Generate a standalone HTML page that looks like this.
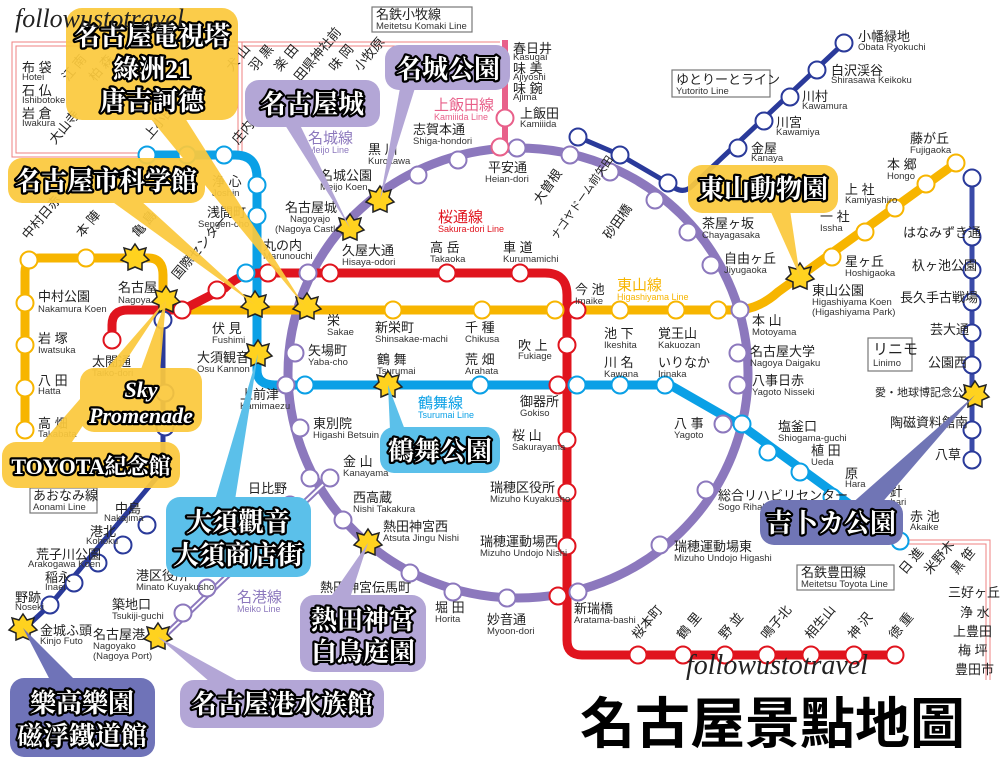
<!DOCTYPE html>
<html><head><meta charset="utf-8"><style>
body{margin:0;background:#fff}
svg{display:block}
text{font-family:"Liberation Sans","Noto Sans CJK JP",sans-serif}
.j{font-size:13px;fill:#222}
.r{font-size:9.5px;fill:#333}
.co{font-family:"Liberation Serif","Noto Serif CJK SC",serif;font-weight:bold;font-size:26px;fill:#fff;stroke:#000;stroke-width:4.5;paint-order:stroke;stroke-linejoin:round;text-anchor:middle}
</style></head><body>
<svg width="1000" height="764" viewBox="0 0 1000 764" xmlns="http://www.w3.org/2000/svg">
<defs>
<circle id="st" r="8.5" fill="#fff" stroke="currentColor" stroke-width="2"/>
<polygon id="star" points="0,-14 4,-8 11,-10 9,-3 14,2 7,5 7,12 0,9 -7,12 -7,5 -14,2 -9,-3 -11,-10 -4,-8" fill="#ffd21f" stroke="#222" stroke-width="1.5"/>
</defs>
<g fill="none" stroke="#ef8080" stroke-width="1">
<rect x="12" y="42" width="230" height="115"/><rect x="16" y="46" width="222" height="107"/>
<path d="M242,42 H500 M242,46 H500"/>
<path d="M908,540 H990 V680 M908,544 H986 V680"/>
</g>
<path d="M505,40 V150" stroke="#e8608a" stroke-width="6" fill="none"/>
<ellipse cx="518" cy="373" rx="230" ry="225" fill="none" stroke="#8c78bd" stroke-width="9"/>
<path d="M330,478 L160,640" stroke="#8c78bd" stroke-width="6" fill="none"/>
<path d="M330,478 L160,640" stroke="#fff" stroke-width="2" fill="none"/>
<path d="M578,137 L620,155 L668,183 Q682,196 692,186 L844,43" stroke="#2a3a9a" stroke-width="5" fill="none"/>
<path d="M972,178 V460" stroke="#3a4aa8" stroke-width="5" fill="none"/>
<path d="M163,320 V470 L50,605 L23,630" stroke="#2a3a9a" stroke-width="5" fill="none"/>
<path d="M147,155 H235 Q257,155 257,178 V370 Q257,385 275,385 H670 L745,428 L900,541" stroke="#0aa0e6" stroke-width="9" fill="none"/>
<path d="M25,430 V272 Q25,258 40,258 H148 Q163,258 163,275 V295 Q163,310 180,310 H735 Q758,310 778,292 L956,163" stroke="#f7b500" stroke-width="9" fill="none"/>
<path d="M112,340 V325 Q112,310 128,310 H182 L225,288 Q240,273 260,273 H545 Q567,273 567,295 V640 Q567,655 582,655 H895" stroke="#e0141e" stroke-width="9" fill="none"/>

<g style="color:#f7b500">
<use href="#st" x="25" y="430"/><use href="#st" x="25" y="388"/><use href="#st" x="25" y="345"/><use href="#st" x="25" y="303"/><use href="#st" x="29" y="260"/><use href="#st" x="86" y="258"/><use href="#st" x="393" y="310"/><use href="#st" x="482" y="310"/><use href="#st" x="555" y="310"/><use href="#st" x="620" y="310"/><use href="#st" x="676" y="310"/><use href="#st" x="718" y="310"/><use href="#st" x="832" y="257"/><use href="#st" x="865" y="232"/><use href="#st" x="895" y="208"/><use href="#st" x="926" y="184"/><use href="#st" x="956" y="163"/>
</g>
<g style="color:#e0141e">
<use href="#st" x="112" y="340"/><use href="#st" x="182" y="310"/><use href="#st" x="217" y="290"/><use href="#st" x="268" y="273"/><use href="#st" x="330" y="273"/><use href="#st" x="447" y="273"/><use href="#st" x="520" y="273"/><use href="#st" x="577" y="310"/><use href="#st" x="567" y="345"/><use href="#st" x="558" y="385"/><use href="#st" x="567" y="440"/><use href="#st" x="567" y="492"/><use href="#st" x="567" y="546"/><use href="#st" x="558" y="596"/><use href="#st" x="638" y="655"/><use href="#st" x="683" y="655"/><use href="#st" x="725" y="655"/><use href="#st" x="767" y="655"/><use href="#st" x="811" y="655"/><use href="#st" x="854" y="655"/><use href="#st" x="895" y="655"/>
</g>
<g style="color:#0aa0e6">
<use href="#st" x="147" y="155"/><use href="#st" x="187" y="155"/><use href="#st" x="224" y="155"/><use href="#st" x="257" y="185"/><use href="#st" x="257" y="216"/><use href="#st" x="246" y="273"/><use href="#st" x="305" y="385"/><use href="#st" x="480" y="385"/><use href="#st" x="577" y="385"/><use href="#st" x="620" y="385"/><use href="#st" x="665" y="385"/><use href="#st" x="742" y="424"/><use href="#st" x="768" y="452"/><use href="#st" x="800" y="472"/><use href="#st" x="832" y="497"/><use href="#st" x="900" y="541"/>
</g>
<g style="color:#8c78bd">
<use href="#st" x="418" y="175"/><use href="#st" x="458" y="160"/><use href="#st" x="517" y="148"/><use href="#st" x="570" y="155"/><use href="#st" x="610" y="172"/><use href="#st" x="655" y="200"/><use href="#st" x="688" y="232"/><use href="#st" x="711" y="265"/><use href="#st" x="740" y="310"/><use href="#st" x="738" y="353"/><use href="#st" x="738" y="385"/><use href="#st" x="723" y="424"/><use href="#st" x="706" y="490"/><use href="#st" x="660" y="545"/><use href="#st" x="578" y="592"/><use href="#st" x="507" y="598"/><use href="#st" x="453" y="592"/><use href="#st" x="410" y="573"/><use href="#st" x="343" y="520"/><use href="#st" x="330" y="478"/><use href="#st" x="300" y="428"/><use href="#st" x="286" y="385"/><use href="#st" x="295" y="353"/><use href="#st" x="308" y="273"/><use href="#st" x="310" y="478"/><use href="#st" x="290" y="505"/><use href="#st" x="207" y="588"/><use href="#st" x="183" y="613"/>
</g>
<g style="color:#2a3a9a">
<use href="#st" x="163" y="320"/><use href="#st" x="165" y="393"/><use href="#st" x="165" y="427"/><use href="#st" x="147" y="525"/><use href="#st" x="123" y="545"/><use href="#st" x="98" y="563"/><use href="#st" x="74" y="583"/><use href="#st" x="50" y="605"/>
<use href="#st" x="578" y="137"/><use href="#st" x="620" y="155"/><use href="#st" x="668" y="183"/><use href="#st" x="738" y="148"/><use href="#st" x="764" y="121"/><use href="#st" x="790" y="97"/><use href="#st" x="817" y="70"/><use href="#st" x="844" y="43"/>
<use href="#st" x="972" y="178"/><use href="#st" x="972" y="237"/><use href="#st" x="972" y="270"/><use href="#st" x="972" y="302"/><use href="#st" x="972" y="333"/><use href="#st" x="972" y="365"/><use href="#st" x="972" y="430"/><use href="#st" x="972" y="460"/>
</g>
<g style="color:#e8608a"><use href="#st" x="505" y="118"/><use href="#st" x="500" y="147"/></g>

<g fill="#fff" stroke="#777" stroke-width="1.2">
<rect x="372" y="7" width="100" height="25"/><rect x="672" y="70" width="98" height="27"/><rect x="797" y="565" width="97" height="25"/><rect x="868" y="338" width="44" height="33"/><rect x="30" y="488" width="67" height="25"/>
</g>
<text class="j" x="376" y="19">名鉄小牧線</text><text class="r" x="376" y="29">Meitetsu Komaki Line</text>
<text class="j" x="676" y="84">ゆとりーとライン</text><text class="r" x="676" y="94">Yutorito Line</text>
<text class="j" x="801" y="577">名鉄豊田線</text><text class="r" x="801" y="587">Meitetsu Toyota Line</text>
<text class="j" x="873" y="354" style="font-size:15px">リニモ</text><text class="r" x="873" y="366">Linimo</text>
<text class="j" x="33" y="500">あおなみ線</text><text class="r" x="33" y="510">Aonami Line</text>

<text x="308" y="143" style="font-size:15px;fill:#8c78bd">名城線</text><text x="308" y="153" style="font-size:9px;fill:#8c78bd">Meijo Line</text>
<text x="434" y="110" style="font-size:15px;fill:#e8608a">上飯田線</text><text x="434" y="120" style="font-size:9px;fill:#e8608a">Kamiiida Line</text>
<text x="438" y="222" style="font-size:15px;fill:#e0141e">桜通線</text><text x="438" y="232" style="font-size:9px;fill:#e0141e">Sakura-dori Line</text>
<text x="617" y="290" style="font-size:15px;fill:#f7b500">東山線</text><text x="617" y="300" style="font-size:9px;fill:#f7b500">Higashiyama Line</text>
<text x="418" y="408" style="font-size:15px;fill:#0aa0e6">鶴舞線</text><text x="418" y="418" style="font-size:9px;fill:#0aa0e6">Tsurumai Line</text>
<text x="237" y="602" style="font-size:15px;fill:#8c78bd">名港線</text><text x="237" y="612" style="font-size:9px;fill:#8c78bd">Meiko Line</text>

<g>
<text class="j" x="22" y="72">布 袋</text><text class="r" x="22" y="80">Hotei</text>
<text class="j" x="22" y="95">石 仏</text><text class="r" x="22" y="103">Ishibotoke</text>
<text class="j" x="22" y="118">岩 倉</text><text class="r" x="22" y="126">Iwakura</text>
<text class="j" x="38" y="301">中村公園</text><text class="r" x="38" y="312">Nakamura Koen</text>
<text class="j" x="38" y="343">岩 塚</text><text class="r" x="38" y="353">Iwatsuka</text>
<text class="j" x="38" y="385">八 田</text><text class="r" x="38" y="394">Hatta</text>
<text class="j" x="38" y="428">高 畑</text><text class="r" x="38" y="437">Takabata</text>
<text class="j" x="118" y="292">名古屋</text><text class="r" x="118" y="303">Nagoya</text>
<text class="j" x="92" y="366">太閤通</text><text class="r" x="92" y="376">Taiko-dori</text>
<text class="j" x="212" y="186">浄 心</text><text class="r" x="212" y="196">Joshin</text>
<text class="j" x="207" y="217">浅間町</text><text class="r" x="198" y="227">Sengen-cho</text>
<text class="j" x="263" y="250">丸の内</text><text class="r" x="263" y="259">Marunouchi</text>
<text class="j" x="285" y="212">名古屋城</text><text class="r" x="290" y="222">Nagoyajo</text><text class="r" x="275" y="232">(Nagoya Castle)</text>
<text class="j" x="320" y="180">名城公園</text><text class="r" x="320" y="190">Meijo Koen</text>
<text class="j" x="368" y="154">黒 川</text><text class="r" x="368" y="164">Kurokawa</text>
<text class="j" x="413" y="134">志賀本通</text><text class="r" x="413" y="144">Shiga-hondori</text>
<text class="j" x="488" y="172">平安通</text><text class="r" x="485" y="182">Heian-dori</text>
<text class="j" x="520" y="118">上飯田</text><text class="r" x="520" y="127">Kamiiida</text>
<text class="j" x="513" y="53">春日井</text><text class="r" x="513" y="60">Kasugai</text>
<text class="j" x="513" y="73">味 美</text><text class="r" x="513" y="80">Ajiyoshi</text>
<text class="j" x="513" y="93">味 鋺</text><text class="r" x="513" y="100">Ajima</text>
<text class="j" x="342" y="255">久屋大通</text><text class="r" x="342" y="265">Hisaya-odori</text>
<text class="j" x="430" y="252">高 岳</text><text class="r" x="430" y="262">Takaoka</text>
<text class="j" x="503" y="252">車 道</text><text class="r" x="503" y="262">Kurumamichi</text>
<text class="j" x="575" y="294">今 池</text><text class="r" x="575" y="304">Imaike</text>
<text class="j" x="212" y="333">伏 見</text><text class="r" x="212" y="343">Fushimi</text>
<text class="j" x="197" y="362">大須観音</text><text class="r" x="197" y="372">Osu Kannon</text>
<text class="j" x="327" y="325">栄</text><text class="r" x="327" y="335">Sakae</text>
<text class="j" x="308" y="355">矢場町</text><text class="r" x="308" y="365">Yaba-cho</text>
<text class="j" x="375" y="332">新栄町</text><text class="r" x="375" y="342">Shinsakae-machi</text>
<text class="j" x="465" y="332">千 種</text><text class="r" x="465" y="342">Chikusa</text>
<text class="j" x="377" y="364">鶴 舞</text><text class="r" x="377" y="374">Tsurumai</text>
<text class="j" x="465" y="364">荒 畑</text><text class="r" x="465" y="374">Arahata</text>
<text class="j" x="518" y="350">吹 上</text><text class="r" x="518" y="359">Fukiage</text>
<text class="j" x="604" y="338">池 下</text><text class="r" x="604" y="348">Ikeshita</text>
<text class="j" x="658" y="338">覚王山</text><text class="r" x="658" y="348">Kakuozan</text>
<text class="j" x="604" y="367">川 名</text><text class="r" x="604" y="377">Kawana</text>
<text class="j" x="658" y="367">いりなか</text><text class="r" x="658" y="377">Irinaka</text>
<text class="j" x="752" y="325">本 山</text><text class="r" x="752" y="335">Motoyama</text>
<text class="j" x="750" y="356">名古屋大学</text><text class="r" x="750" y="366">Nagoya Daigaku</text>
<text class="j" x="752" y="385">八事日赤</text><text class="r" x="752" y="395">Yagoto Nisseki</text>
<text class="j" x="240" y="399">上前津</text><text class="r" x="240" y="409">Kamimaezu</text>
<text class="j" x="313" y="428">東別院</text><text class="r" x="313" y="438">Higashi Betsuin</text>
<text class="j" x="520" y="406">御器所</text><text class="r" x="520" y="416">Gokiso</text>
<text class="j" x="512" y="440">桜 山</text><text class="r" x="512" y="450">Sakurayama</text>
<text class="j" x="490" y="492">瑞穂区役所</text><text class="r" x="490" y="502">Mizuho Kuyakusho</text>
<text class="j" x="480" y="546">瑞穂運動場西</text><text class="r" x="480" y="556">Mizuho Undojo Nishi</text>
<text class="j" x="674" y="428">八 事</text><text class="r" x="674" y="438">Yagoto</text>
<text class="j" x="778" y="431">塩釜口</text><text class="r" x="778" y="441">Shiogama-guchi</text>
<text class="j" x="811" y="455">植 田</text><text class="r" x="811" y="465">Ueda</text>
<text class="j" x="845" y="478">原</text><text class="r" x="845" y="487">Hara</text>
<text class="j" x="873" y="496">平 針</text><text class="r" x="873" y="505">Hirabari</text>
<text class="j" x="910" y="521">赤 池</text><text class="r" x="910" y="530">Akaike</text>
<text class="j" x="718" y="500">総合リハビリセンター</text><text class="r" x="718" y="510">Sogo Rihabiri Center</text>
<text class="j" x="674" y="551">瑞穂運動場東</text><text class="r" x="674" y="561">Mizuho Undojo Higashi</text>
<text class="j" x="574" y="613">新瑞橋</text><text class="r" x="574" y="623">Aratama-bashi</text>
<text class="j" x="487" y="624">妙音通</text><text class="r" x="487" y="634">Myoon-dori</text>
<text class="j" x="435" y="612">堀 田</text><text class="r" x="435" y="622">Horita</text>
<text class="j" x="320" y="592">熱田神宮伝馬町</text>
<text class="j" x="383" y="531">熱田神宮西</text><text class="r" x="383" y="541">Atsuta Jingu Nishi</text>
<text class="j" x="353" y="502">西高蔵</text><text class="r" x="353" y="512">Nishi Takakura</text>
<text class="j" x="343" y="466">金 山</text><text class="r" x="343" y="476">Kanayama</text>
<text class="j" x="248" y="493">日比野</text>
<text class="j" x="136" y="580">港区役所</text><text class="r" x="136" y="590">Minato Kuyakusho</text>
<text class="j" x="112" y="609">築地口</text><text class="r" x="112" y="619">Tsukiji-guchi</text>
<text class="j" x="93" y="639">名古屋港</text><text class="r" x="93" y="649">Nagoyako</text><text class="r" x="93" y="659">(Nagoya Port)</text>
<text class="j" x="115" y="513">中島</text><text class="r" x="104" y="521">Nakajima</text>
<text class="j" x="90" y="536">港北</text><text class="r" x="86" y="544">Kohoku</text>
<text class="j" x="36" y="559">荒子川公園</text><text class="r" x="28" y="567">Arakogawa Koen</text>
<text class="j" x="45" y="582">稲永</text><text class="r" x="45" y="590">Inaei</text>
<text class="j" x="15" y="602">野跡</text><text class="r" x="15" y="610">Noseki</text>
<text class="j" x="40" y="635">金城ふ頭</text><text class="r" x="40" y="644">Kinjo Futo</text>
<text class="j" x="858" y="41">小幡緑地</text><text class="r" x="858" y="50">Obata Ryokuchi</text>
<text class="j" x="831" y="75">白沢渓谷</text><text class="r" x="831" y="83">Shirasawa Keikoku</text>
<text class="j" x="802" y="101">川村</text><text class="r" x="802" y="109">Kawamura</text>
<text class="j" x="776" y="127">川宮</text><text class="r" x="776" y="135">Kawamiya</text>
<text class="j" x="751" y="153">金屋</text><text class="r" x="751" y="161">Kanaya</text>
<text class="j" x="702" y="228">茶屋ヶ坂</text><text class="r" x="702" y="238">Chayagasaka</text>
<text class="j" x="724" y="263">自由ヶ丘</text><text class="r" x="724" y="273">Jiyugaoka</text>
<text class="j" x="910" y="143">藤が丘</text><text class="r" x="910" y="153">Fujigaoka</text>
<text class="j" x="887" y="169">本 郷</text><text class="r" x="887" y="179">Hongo</text>
<text class="j" x="845" y="194">上 社</text><text class="r" x="845" y="203">Kamiyashiro</text>
<text class="j" x="820" y="221">一 社</text><text class="r" x="820" y="231">Issha</text>
<text class="j" x="845" y="266">星ヶ丘</text><text class="r" x="845" y="276">Hoshigaoka</text>
<text class="j" x="812" y="295">東山公園</text><text class="r" x="812" y="305">Higashiyama Koen</text><text class="r" x="812" y="315">(Higashiyama Park)</text>
<text class="j" x="903" y="237">はなみずき通</text>
<text class="j" x="912" y="270">杁ヶ池公園</text>
<text class="j" x="900" y="302">長久手古戦場</text>
<text class="j" x="930" y="334">芸大通</text>
<text class="j" x="928" y="367">公園西</text>
<text class="j" x="875" y="396" style="font-size:11px">愛・地球博記念公園</text>
<text class="j" x="890" y="427">陶磁資料館南</text>
<text class="j" x="935" y="459">八草</text>
<text class="j" x="948" y="597">三好ヶ丘</text>
<text class="j" x="960" y="617">浄 水</text>
<text class="j" x="953" y="636">上豊田</text>
<text class="j" x="958" y="655">梅 坪</text>
<text class="j" x="955" y="674">豊田市</text>
</g>
<g>
<text transform="translate(68,82) rotate(-50)" class="j">江 南</text>
<text transform="translate(95,82) rotate(-50)" class="j">柏 森</text>
<text transform="translate(232,72) rotate(-50)" class="j">犬 山</text>
<text transform="translate(255,72) rotate(-50)" class="j">羽 黒</text>
<text transform="translate(280,72) rotate(-50)" class="j">楽 田</text>
<text transform="translate(300,82) rotate(-50)" class="j">田県神社前</text>
<text transform="translate(335,72) rotate(-50)" class="j">味 岡</text>
<text transform="translate(360,72) rotate(-50)" class="j">小牧原</text>
<text transform="translate(55,145) rotate(-50)" class="j">大山寺</text>
<text transform="translate(150,140) rotate(-50)" class="j">上小田井</text>
<text transform="translate(238,145) rotate(-50)" class="j">庄内通</text>
<text transform="translate(28,240) rotate(-50)" class="j">中村日赤</text>
<text transform="translate(82,238) rotate(-50)" class="j">本 陣</text>
<text transform="translate(138,238) rotate(-50)" class="j">亀 島</text>
<text transform="translate(178,280) rotate(-50)" class="j">国際センター</text>
<text transform="translate(638,640) rotate(-50)" class="j">桜本町</text>
<text transform="translate(683,640) rotate(-50)" class="j">鶴 里</text>
<text transform="translate(725,640) rotate(-50)" class="j">野 並</text>
<text transform="translate(767,640) rotate(-50)" class="j">鳴子北</text>
<text transform="translate(811,640) rotate(-50)" class="j">相生山</text>
<text transform="translate(854,640) rotate(-50)" class="j">神 沢</text>
<text transform="translate(895,640) rotate(-50)" class="j">徳 重</text>
<text transform="translate(905,575) rotate(-50)" class="j">日 進</text>
<text transform="translate(930,575) rotate(-50)" class="j">米野木</text>
<text transform="translate(957,575) rotate(-50)" class="j">黒 笹</text>
<text transform="translate(540,205) rotate(-55)" class="j">大曽根</text>
<text transform="translate(557,240) rotate(-55)" class="j" style="font-size:11px">ナゴヤドーム前矢田</text>
<text transform="translate(610,240) rotate(-55)" class="j">砂田橋</text>
</g>

<use href="#star" x="380" y="200"/><use href="#star" x="350" y="228"/><use href="#star" x="135" y="258"/><use href="#star" x="166" y="300"/><use href="#star" x="255" y="305"/><use href="#star" x="307" y="307"/><use href="#star" x="258" y="354"/><use href="#star" x="388" y="385"/><use href="#star" x="368" y="543"/><use href="#star" x="158" y="637"/><use href="#star" x="23" y="628"/><use href="#star" x="800" y="277"/><use href="#star" x="975" y="395"/>

<g opacity="0.93">
<polygon points="150,118 185,118 305,307" fill="#fbc93d"/>
<rect x="66" y="8" width="172" height="112" rx="16" fill="#fbc93d"/>
<polygon points="110,200 140,200 255,305" fill="#fbc93d"/>
<rect x="8" y="158" width="197" height="45" rx="14" fill="#fbc93d"/>
<polygon points="140,372 160,372 166,300" fill="#fbc93d"/>
<rect x="80" y="368" width="122" height="64" rx="14" fill="#fbc93d"/>
<polygon points="40,445 70,445 166,300" fill="#fbc93d"/>
<rect x="2" y="442" width="178" height="46" rx="14" fill="#fbc93d"/>
<polygon points="770,210 790,210 800,277" fill="#fbc93d"/>
<rect x="688" y="165" width="150" height="48" rx="14" fill="#fbc93d"/>
</g>
<polygon points="285,125 300,125 350,228" fill="#b3a6d6"/>
<rect x="245" y="80" width="135" height="47" rx="14" fill="#b3a6d6"/>
<polygon points="400,88 415,88 380,200" fill="#b3a6d6"/>
<rect x="385" y="45" width="125" height="45" rx="14" fill="#b3a6d6"/>
<polygon points="390,430 405,430 388,385" fill="#5bc0ea"/>
<rect x="380" y="427" width="120" height="46" rx="14" fill="#5bc0ea"/>
<polygon points="215,500 235,500 258,354" fill="#5bc0ea"/>
<rect x="166" y="497" width="145" height="80" rx="14" fill="#5bc0ea"/>
<polygon points="330,598 350,598 368,543" fill="#b3a6d6"/>
<rect x="300" y="595" width="126" height="77" rx="14" fill="#b3a6d6"/>
<polygon points="210,682 240,682 158,637" fill="#b3a6d6"/>
<rect x="180" y="680" width="204" height="48" rx="14" fill="#b3a6d6"/>
<polygon points="50,680 75,680 23,628" fill="#6f73b8"/>
<rect x="10" y="678" width="145" height="79" rx="14" fill="#6f73b8"/>
<polygon points="850,505 880,505 975,395" fill="#7075b5"/>
<rect x="760" y="500" width="143" height="45" rx="14" fill="#7075b5"/>

<text class="co" x="152" y="45">名古屋電視塔</text>
<text class="co" x="152" y="78">綠洲21</text>
<text class="co" x="152" y="110">唐吉訶德</text>
<text class="co" x="312" y="113">名古屋城</text>
<text class="co" x="448" y="78">名城公園</text>
<text class="co" x="106" y="190">名古屋市科学館</text>
<text class="co" x="141" y="397" style="font-size:22px;font-style:italic">Sky</text>
<text class="co" x="141" y="423" style="font-size:22px;font-style:italic">Promenade</text>
<text class="co" x="91" y="474" style="font-size:22px">TOYOTA紀念館</text>
<text class="co" x="763" y="198">東山動物園</text>
<text class="co" x="440" y="460">鶴舞公園</text>
<text class="co" x="238" y="531">大須觀音</text>
<text class="co" x="238" y="564">大須商店街</text>
<text class="co" x="363" y="629">熱田神宮</text>
<text class="co" x="363" y="661">白鳥庭園</text>
<text class="co" x="282" y="713">名古屋港水族館</text>
<text class="co" x="82" y="712">樂高樂園</text>
<text class="co" x="82" y="745">磁浮鐵道館</text>
<text class="co" x="831" y="532">吉卜カ公園</text>

<text x="15" y="27" style="font-family:'Liberation Serif',serif;font-style:italic;font-size:26px;fill:#222">followustotravel</text>
<text x="686" y="674" style="font-family:'Liberation Serif',serif;font-style:italic;font-size:28px;fill:#222">followustotravel</text>
<text x="580" y="743" style="font-family:'Liberation Sans','Noto Sans CJK JP',sans-serif;font-weight:bold;font-size:55px;fill:#000">名古屋景點地圖</text>
</svg>
</body></html>
